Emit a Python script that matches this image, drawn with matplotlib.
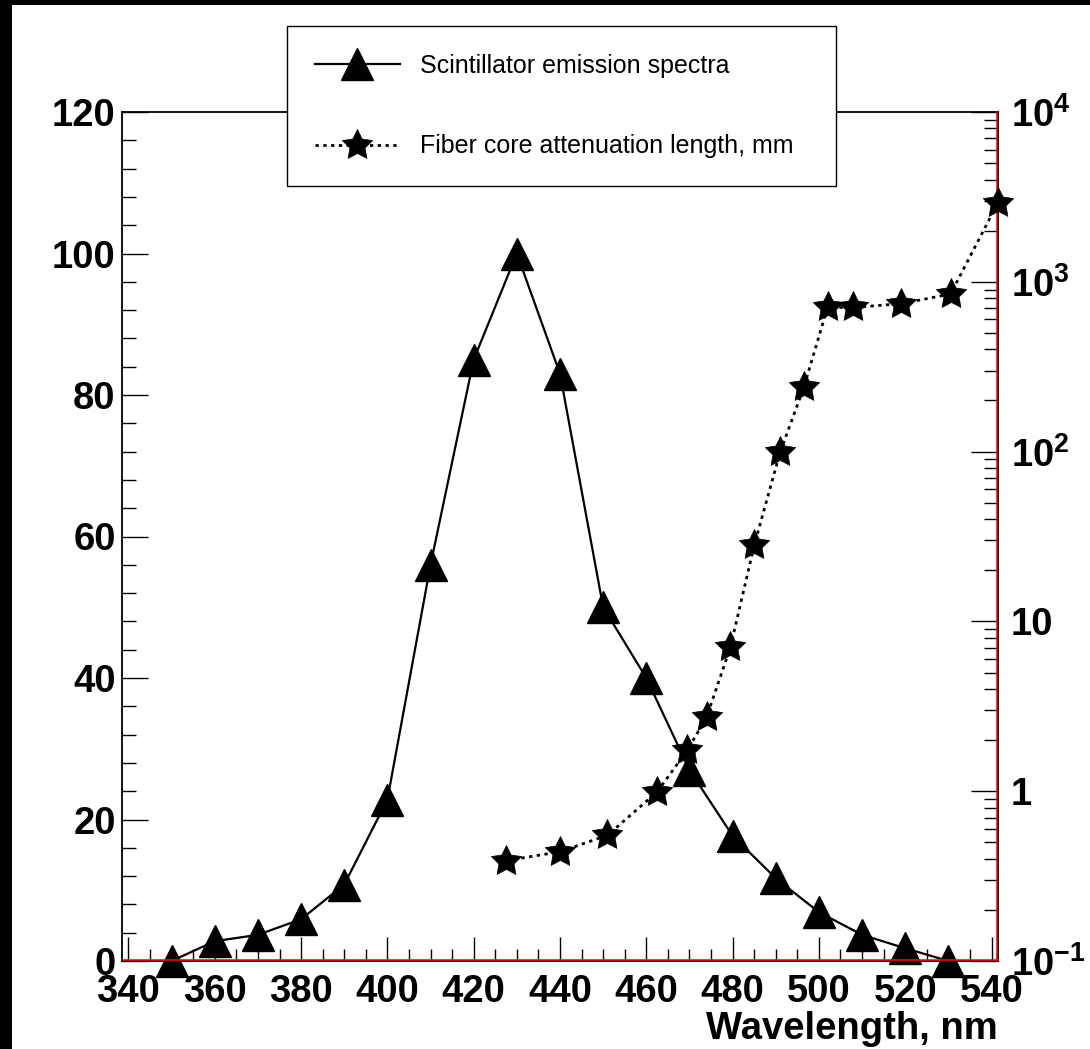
import matplotlib
matplotlib.use("Agg")
import numpy as np
import matplotlib.pyplot as plt
from matplotlib.patches import Rectangle
from matplotlib.path import Path
from matplotlib.ticker import MultipleLocator, FixedLocator, FixedFormatter, LogLocator, NullFormatter

plt.rcParams['font.family'] = ['Liberation Sans', 'DejaVu Sans']
plt.rcParams['font.weight'] = 'bold'
plt.rcParams['mathtext.fontset'] = 'custom'
plt.rcParams['mathtext.rm'] = 'Liberation Sans:bold'
plt.rcParams['mathtext.it'] = 'Liberation Sans:bold'
plt.rcParams['mathtext.bf'] = 'Liberation Sans:bold'
plt.rcParams['axes.unicode_minus'] = False

# ---- data ----
wl_scint = [350, 360, 370, 380, 390, 400, 410, 420, 430, 440,
            450, 460, 470, 480, 490, 500, 510, 520, 530]
scint = [0, 2.8, 3.7, 5.9, 10.8, 22.8, 56, 85, 100, 83,
         50, 40, 27, 17.7, 11.7, 6.9, 3.7, 1.8, 0]

wl_fiber = [427.5, 440, 451, 462.5, 469.5, 474, 479.5, 485, 491,
            496.5, 502, 508, 519, 530.5, 541.5]
atten = [0.39, 0.44, 0.55, 0.99, 1.74, 2.74, 7.06, 28, 99,
         239, 706, 706, 743, 847, 2926]

x_ticks = [340, 360, 380, 400, 420, 440, 460, 480, 500, 520, 540]
y_left_ticks = [0, 20, 40, 60, 80, 100, 120]
y_right_ticks = [0.1, 1, 10, 100, 1000, 10000]
y_right_labels = [r'$10^{-1}$', '1', '10', r'$10^{2}$', r'$10^{3}$', r'$10^{4}$']

label_scint = 'Scintillator emission spectra'
label_fiber = 'Fiber core attenuation length, mm'
xlabel = 'Wavelength, nm'

# chunky 5-point star marker (ROOT style)
_ang = np.pi / 2 + np.arange(10) * np.pi / 5
_rad = np.where(np.arange(10) % 2 == 0, 1.0, 0.5)
_verts = np.column_stack([_rad * np.cos(_ang), _rad * np.sin(_ang)])
_verts = np.vstack([_verts, _verts[:1]])
star_marker = Path(_verts, [Path.MOVETO] + [Path.LINETO] * 9 + [Path.CLOSEPOLY])

W, H = 1090, 1049
fig = plt.figure(figsize=(W / 100, H / 100), dpi=100)
fig.patch.set_facecolor('black')
fig.add_artist(Rectangle((12 / W, 0), 1 - 12 / W, (H - 5) / H,
                         transform=fig.transFigure, facecolor='white',
                         edgecolor='none', zorder=-10))

ax = fig.add_axes([122 / W, (H - 961) / H, (998 - 122) / W, (961 - 112) / H])
ax.set_facecolor('white')
ax.set_xlim(338.5, 541.5)
ax.set_ylim(0, 120)

l1, = ax.plot(wl_scint, scint, color='black', lw=1.6, marker='^',
              markersize=22.5, markerfacecolor='black', markeredgecolor='black',
              clip_on=False, zorder=3)

ax.xaxis.set_major_locator(FixedLocator(x_ticks))
ax.xaxis.set_minor_locator(MultipleLocator(5))
ax.yaxis.set_major_locator(FixedLocator(y_left_ticks))
ax.yaxis.set_minor_locator(MultipleLocator(4))
ax.tick_params(axis='both', which='both', direction='in', top=False, right=False,
               labelsize=27.5, width=1.0, color='black')
ax.tick_params(axis='y', which='major', length=18.7, pad=4.5)
ax.tick_params(axis='y', which='minor', length=10)
ax.tick_params(axis='x', which='major', length=17.3, pad=9)
ax.tick_params(axis='x', which='minor', length=8.6)
for s in ax.spines.values():
    s.set_color('black')
    s.set_linewidth(1.3)

ax2 = ax.twinx()
ax2.set_yscale('log')
ax2.set_ylim(0.1, 1e4)
l2, = ax2.plot(wl_fiber, atten, color='black', lw=2.0, linestyle=(0, (1.2, 1.6)),
               marker=star_marker, markersize=23, markerfacecolor='black',
               markeredgecolor='black', markeredgewidth=0.5,
               clip_on=False, zorder=4)
ax2.yaxis.set_major_locator(FixedLocator(y_right_ticks))
ax2.yaxis.set_major_formatter(FixedFormatter(y_right_labels))
ax2.yaxis.set_minor_locator(LogLocator(base=10, subs=range(2, 10), numticks=20))
ax2.yaxis.set_minor_formatter(NullFormatter())
ax2.tick_params(axis='y', which='both', direction='in', labelsize=27.5, width=1.0,
                color='black')
ax2.tick_params(axis='y', which='major', length=18.7, pad=10)
ax2.tick_params(axis='y', which='minor', length=9.4)
ax2.spines['top'].set_visible(False)
ax2.spines['left'].set_visible(False)
ax2.spines['right'].set_color('red')
ax2.spines['right'].set_linewidth(1.1)
ax2.spines['right'].set_position(('outward', -0.8))
ax2.spines['bottom'].set_color('red')
ax2.spines['bottom'].set_linewidth(1.1)
ax2.spines['bottom'].set_position(('outward', -0.8))

ax.set_xlabel(xlabel, fontsize=27.5, fontweight='bold', ha='right')
ax.xaxis.set_label_coords(1.0, -(1011 - 961) / 849)

leg = ax2.legend([l1, l2], [label_scint, label_fiber],
                 loc='upper left',
                 bbox_to_anchor=(287 / W, 1 - 26 / H, (836 - 287) / W, 0.0),
                 bbox_transform=fig.transFigure, mode='expand',
                 borderaxespad=0, borderpad=1.1, labelspacing=2.28,
                 handleheight=0.7, handlelength=3.4, handletextpad=0.8,
                 fancybox=False, framealpha=1, edgecolor='black',
                 prop={'family': 'Liberation Sans', 'weight': 'normal', 'size': 18},
                 markerscale=1.0)
leg.get_frame().set_linewidth(1.0)
leg.set_zorder(10)

fig.savefig('out.png', dpi=100, facecolor=fig.get_facecolor())
